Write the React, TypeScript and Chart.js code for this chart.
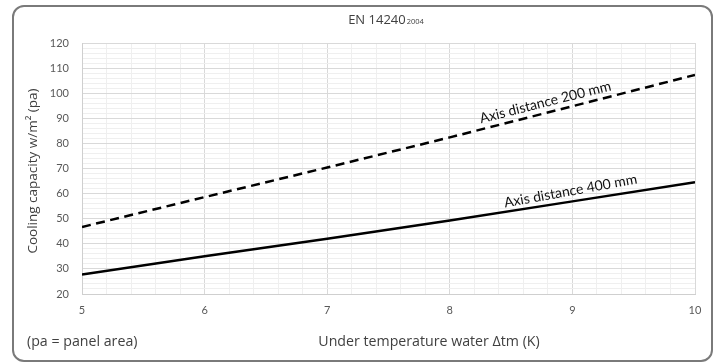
import React, { useEffect, useRef } from "react";
import { Chart, registerables } from "chart.js";

Chart.register(...registerables);

// ---- data ----
const xValues = [5, 6, 7, 8, 9, 10];
const dist200 = [46.7, 58.6, 70.4, 82.4, 94.8, 107.3];
const dist400 = [27.8, 35.0, 42.0, 49.3, 56.9, 64.5];
const seriesNames = ["Axis distance 200 mm", "Axis distance 400 mm"];
const labelAnchorX = [8.8, 9.0];
const labelAngleDeg = [-14.2, -10.3];
const titleMain = "EN 14240";
const titleSub = "2004";
const yTitle = "Cooling capacity w/m² (pa)";
const xTitle = "Under temperature water Δtm (K)";
const footNote = "(pa = panel area)";

const W = 717;
const H = 363;

const isInt = (v: number) => Math.abs(v - Math.round(v)) < 1e-6;
const isTen = (v: number) => Math.abs(v / 10 - Math.round(v / 10)) < 1e-6;

const decor = {
  id: "decor",
  beforeDraw(chart: any) {
    const ctx = chart.ctx as CanvasRenderingContext2D;
    ctx.save();
    ctx.fillStyle = "#ffffff";
    ctx.fillRect(0, 0, chart.width, chart.height);
    ctx.restore();
  },
  afterDraw(chart: any) {
    const ctx = chart.ctx as CanvasRenderingContext2D;
    const xs = chart.scales.x;
    const ys = chart.scales.y;
    ctx.save();
    // rounded frame
    ctx.strokeStyle = "#7a7a7a";
    ctx.lineWidth = 2;
    const x0 = 13, y0 = 6, x1 = 712, y1 = 361, r = 11;
    ctx.beginPath();
    ctx.moveTo(x0 + r, y0);
    ctx.lineTo(x1 - r, y0);
    ctx.arcTo(x1, y0, x1, y0 + r, r);
    ctx.lineTo(x1, y1 - r);
    ctx.arcTo(x1, y1, x1 - r, y1, r);
    ctx.lineTo(x0 + r, y1);
    ctx.arcTo(x0, y1, x0, y1 - r, r);
    ctx.lineTo(x0, y0 + r);
    ctx.arcTo(x0, y0, x0 + r, y0, r);
    ctx.closePath();
    ctx.stroke();

    // title
    ctx.fillStyle = "#404040";
    ctx.textBaseline = "alphabetic";
    ctx.font = '13px "Open Sans"';
    const mainW = ctx.measureText(titleMain).width;
    ctx.font = '7.5px "Open Sans"';
    const subW = ctx.measureText(titleSub).width;
    const tx = 386 - (mainW + subW + 1) / 2;
    ctx.font = '13px "Open Sans"';
    ctx.textAlign = "left";
    ctx.fillText(titleMain, tx, 24);
    ctx.font = '7.5px "Open Sans"';
    ctx.fillText(titleSub, tx + mainW + 1, 24);

    // y title
    ctx.save();
    ctx.translate(33, 171);
    ctx.rotate(-Math.PI / 2);
    ctx.font = '13.5px "Open Sans"';
    ctx.textAlign = "center";
    ctx.textBaseline = "middle";
    ctx.fillText(yTitle, 0, 0);
    ctx.restore();

    // x title & footnote
    ctx.font = '14.2px "Open Sans"';
    ctx.textBaseline = "middle";
    ctx.textAlign = "center";
    ctx.fillText(xTitle, 429, 342);
    ctx.textAlign = "left";
    ctx.fillText(footNote, 27, 342);

    // line labels
    const sets = [dist200, dist400];
    ctx.fillStyle = "#111111";
    ctx.font = '14px Lato';
    ctx.textAlign = "center";
    ctx.textBaseline = "middle";
    sets.forEach((vals, i) => {
      const ax = labelAnchorX[i];
      let k = 0;
      while (k < xValues.length - 2 && xValues[k + 1] < ax) k++;
      const t = (ax - xValues[k]) / (xValues[k + 1] - xValues[k]);
      const v = vals[k] + t * (vals[k + 1] - vals[k]);
      const px = xs.getPixelForValue(ax);
      const py = ys.getPixelForValue(v);
      ctx.save();
      ctx.translate(px, py);
      ctx.rotate((labelAngleDeg[i] * Math.PI) / 180);
      ctx.fillText(seriesNames[i], 0, -10.5);
      ctx.restore();
    });
    ctx.restore();
  },
};

export default function App() {
  const ref = useRef<HTMLCanvasElement | null>(null);
  useEffect(() => {
    if (!ref.current) return;
    const chart = new Chart(ref.current, {
      type: "line",
      data: {
        datasets: [
          {
            label: seriesNames[0],
            data: xValues.map((x, i) => ({ x, y: dist200[i] })),
            borderColor: "#000000",
            borderWidth: 2.5,
            borderDash: [9, 5.5],
            pointRadius: 0,
            tension: 0,
            fill: false,
          },
          {
            label: seriesNames[1],
            data: xValues.map((x, i) => ({ x, y: dist400[i] })),
            borderColor: "#000000",
            borderWidth: 2.5,
            pointRadius: 0,
            tension: 0,
            fill: false,
          },
        ],
      },
      options: {
        animation: false,
        responsive: false,
        maintainAspectRatio: false,
        layout: { padding: { top: 43, right: 22, left: 0, bottom: 0 } },
        plugins: { legend: { display: false }, tooltip: { enabled: false }, title: { display: false } },
        scales: {
          x: {
            type: "linear",
            min: 5,
            max: 10,
            afterFit: (s: any) => {
              s.height = 69;
            },
            border: { color: "#cfcfcf", width: 1 },
            grid: {
              drawTicks: false,
              color: (c: any) => (isInt(c.tick.value) ? "#d9d9d9" : "#efefef"),
              lineWidth: 1,
            },
            ticks: {
              stepSize: 0.2,
              autoSkip: false,
              maxRotation: 0,
              padding: 10,
              color: "#595959",
              font: { family: "Lato", size: 11 },
              callback: (v: any) => (isInt(Number(v)) ? String(Math.round(Number(v))) : ""),
            },
          },
          y: {
            type: "linear",
            min: 20,
            max: 120,
            afterFit: (s: any) => {
              s.width = 82;
            },
            border: { color: "#cfcfcf", width: 1 },
            grid: {
              drawTicks: false,
              color: (c: any) => (isTen(c.tick.value) ? "#d9d9d9" : "#efefef"),
              lineWidth: 1,
            },
            ticks: {
              stepSize: 2,
              autoSkip: false,
              padding: 13,
              color: "#595959",
              font: { family: "Lato", size: 11 },
              callback: (v: any) => (isTen(Number(v)) ? String(Math.round(Number(v))) : ""),
            },
          },
        },
      },
      plugins: [decor],
    });
    return () => chart.destroy();
  }, []);
  return (
    <div style={{ position: "absolute", left: 0, top: 0, width: W, height: H, background: "#fff" }}>
      <canvas ref={ref} width={W} height={H} style={{ display: "block", width: W, height: H }} />
    </div>
  );
}
